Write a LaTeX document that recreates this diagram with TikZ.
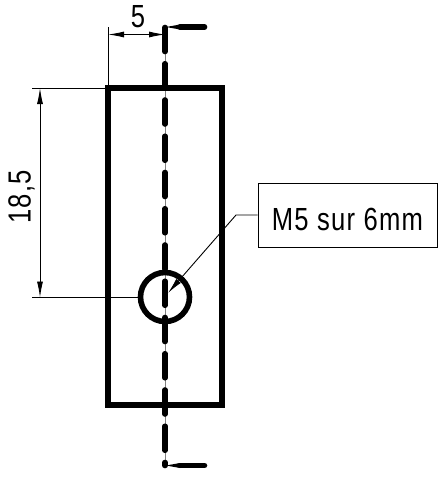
\documentclass[tikz,border=0pt]{standalone}
\usepackage{fontspec}
\setmainfont{Liberation Sans}
\newfontfamily\isofont[FakeStretch=0.8, LetterSpace=4]{Liberation Sans}
\usepackage{tikz}
\usetikzlibrary{arrows.meta}

\begin{document}
\begin{tikzpicture}[x=1pt, y=-1pt,
		thick line/.style = {line width = 5.6pt},
		thin line/.style = {line width = 0.9pt},
		dim line/.style = {thin line, {Latex[length=16pt, width=6pt]}-{Latex[length=16pt, width=6pt]}},
		dim text/.style = {font = \isofont\fontsize{32}{32}\selectfont, inner sep = 0pt},
		note box/.style = {draw, thin line, minimum width = 179pt, minimum height = 64pt, inner sep = 0pt, text height = 30pt, text depth = 0pt}
	]
		\useasboundingbox (0,0) rectangle (439,477);
		\def\platerectangle{(108,88) rectangle (222,405)};
		\def\holecircle{(165,297) circle [radius = 24.5]};
		
		\begin{scope}
			\draw [thin line, gray] (165,27) -- (165,465.5);
			\draw [thick line, line cap = round, dash pattern = on 24pt off 12.25pt] (165,27.5) -- (165,465.5);
		\end{scope}
		
		\begin{scope}
			\draw [thick line, line join = miter] \platerectangle;
			\draw [thick line] \holecircle;
		\end{scope}
		
		\begin{scope}
			\draw [thick line, line cap = round] (180,27) -- (204.5,27);
			\fill (166,27) -- (180,24.5) -- (180,29.5) -- cycle;
			\draw [thick line, line cap = round] (180,465.5) -- (204.5,465.5);
			\fill (166,465.5) -- (180,463) -- (180,468) -- cycle;
		\end{scope}
		
		\begin{scope}
			\draw [thin line] (108,27) -- (108,88);
			\draw [dim line] (108,34.5) -- (165,34.5);
			\draw [thin line] (32,88) -- (108,88);
			\draw [thin line] (32,297.5) -- (138,297.5);
			\draw [dim line] (40,88) -- (40,297.5);
		\end{scope}
		
		\begin{scope}
			\node [dim text] (fivelabel) at (138,16.5) {5};
			\node [dim text, rotate = 90] (depthlabel) at (21.5,197) {18,5};
		\end{scope}
		
		\begin{scope}
			\node [note box, dim text] (threadnote) at (347.5,215) {M5 sur 6mm};
			\coordinate (notebend) at (236,215);
			\coordinate (notetip) at (168,293);
			\draw [thin line, -{Latex[length=16pt, width=6pt]}] (threadnote.west) -- (notebend) -- (notetip);
		\end{scope}
	\end{tikzpicture}
\end{document}
